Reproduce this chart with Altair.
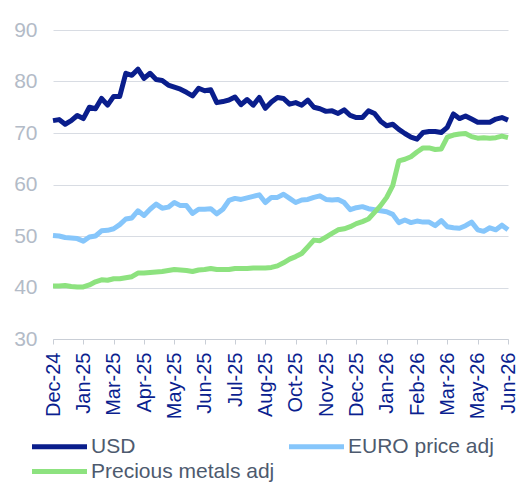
import altair as alt
import pandas as pd

tick_labels = ["Dec-24", "Jan-25", "Mar-25", "Apr-25", "May-25", "Jun-25", "Jul-25",
               "Aug-25", "Oct-25", "Nov-25", "Dec-25", "Jan-26", "Feb-26", "Mar-26",
               "May-26", "Jun-26"]

usd = [72.4, 72.6, 71.7, 72.4, 73.4, 72.8, 75.0, 74.7, 76.7, 75.4,
       77.1, 77.1, 81.6, 81.2, 82.4, 80.6, 81.6, 80.4, 80.2, 79.3,
       78.9, 78.5, 77.9, 77.2, 78.7, 78.2, 78.4, 75.9, 76.1, 76.4,
       77.0, 75.5, 76.5, 75.4, 76.9, 74.8, 76.0, 76.9, 76.7, 75.6,
       75.9, 75.4, 76.4, 75.0, 74.7, 74.2, 74.3, 73.8, 74.5, 73.4,
       73.0, 73.0, 74.3, 73.8, 72.3, 71.4, 71.7, 70.7, 69.9, 69.2,
       68.8, 70.1, 70.3, 70.3, 70.1, 71.1, 73.7, 72.8, 73.3, 72.7,
       72.1, 72.1, 72.1, 72.7, 73.0, 72.5]

euro = [50.1, 50.0, 49.7, 49.6, 49.5, 49.0, 49.8, 50.0, 51.0, 51.1,
        51.4, 52.2, 53.3, 53.5, 54.9, 54.0, 55.2, 56.2, 55.4, 55.6,
        56.5, 55.9, 55.9, 54.4, 55.2, 55.2, 55.3, 54.3, 55.2, 56.9,
        57.3, 57.1, 57.4, 57.7, 58.0, 56.5, 57.5, 57.5, 58.1, 57.3,
        56.5, 57.0, 57.1, 57.5, 57.8, 57.1, 57.0, 57.1, 56.5, 55.1,
        55.5, 55.7, 55.3, 55.1, 54.9, 54.7, 54.2, 52.6, 53.1, 52.6,
        52.9, 52.7, 52.7, 52.0, 53.0, 51.8, 51.6, 51.5, 52.0, 52.7,
        51.2, 50.9, 51.6, 51.2, 52.1, 51.2]

metals = [40.3, 40.3, 40.4, 40.2, 40.1, 40.1, 40.5, 41.1, 41.5, 41.4,
          41.7, 41.7, 41.9, 42.1, 42.8, 42.8, 42.9, 43.0, 43.1, 43.3,
          43.5, 43.4, 43.3, 43.1, 43.4, 43.5, 43.7, 43.5, 43.5, 43.5,
          43.7, 43.7, 43.7, 43.8, 43.8, 43.8, 43.9, 44.2, 44.8, 45.5,
          46.0, 46.6, 47.9, 49.2, 49.1, 49.8, 50.5, 51.2, 51.4, 51.8,
          52.4, 52.8, 53.3, 54.6, 55.9, 57.5, 59.8, 64.6, 64.9, 65.4,
          66.3, 67.1, 67.1, 66.8, 66.9, 69.2, 69.6, 69.8, 69.9, 69.3,
          69.0, 69.1, 69.0, 69.1, 69.4, 69.1]

series_names = ["USD", "EURO price adj", "Precious metals adj"]
series_colors = ["#0a1e8c", "#86c6fb", "#8de27f"]
y_ticks = [30, 40, 50, 60, 70, 80, 90]

rows = []
for k, (name, vals) in enumerate(zip(series_names, [usd, euro, metals])):
    for i, v in enumerate(vals):
        rows.append({"week": i, "value": v, "series": name, "k": k})
df = pd.DataFrame(rows)

n_last = len(usd) - 1
step = n_last // (len(tick_labels) - 1)
label_expr = "[" + ",".join("'%s'" % t for t in tick_labels) + "][round(datum.value/%d)]" % step

font = "Arial"
plot_w = 455

lines = alt.Chart(df).mark_line(strokeWidth=5, strokeJoin="round").encode(
    x=alt.X("week:Q",
            scale=alt.Scale(domain=[0, n_last], nice=False, zero=False),
            axis=alt.Axis(values=list(range(0, n_last + 1, step)), labelExpr=label_expr,
                          labelAngle=270, title=None, grid=False,
                          domainColor="#c9ced6", tickColor="#c9ced6", tickSize=5,
                          labelColor="#0b1f8f", labelFontSize=20, labelPadding=8,
                          labelFont=font)),
    y=alt.Y("value:Q",
            scale=alt.Scale(domain=[30, 90], nice=False, zero=False),
            axis=alt.Axis(values=y_ticks, title=None, ticks=False, domain=False,
                          gridColor="#d8dce3", labelColor="#b3bbc7", labelFontSize=21,
                          labelPadding=16, labelFont=font)),
    color=alt.Color("series:N",
                    scale=alt.Scale(domain=series_names, range=series_colors),
                    sort=series_names,
                    legend=alt.Legend(title=None, orient="none", legendX=-6, legendY=404,
                                      direction="horizontal", columns=2,
                                      symbolType="M-2.75,0H2.75", symbolSize=400,
                                      symbolStrokeWidth=5, labelFontSize=21,
                                      labelColor="#4d5a6e", labelFont=font, labelLimit=0,
                                      columnPadding=4, rowPadding=2, labelOffset=19)),
    order=alt.Order("k:Q"),
)

top_rule = alt.Chart(pd.DataFrame({"a": [0]})).mark_rule(color="#1c2d9c", strokeWidth=2).encode(
    x=alt.value(-45), x2=alt.value(plot_w + 4), y=alt.value(-26)
)

chart = alt.layer(top_rule, lines).properties(
    width=plot_w, height=309,
    padding={"left": 45, "top": 22, "right": 8, "bottom": 145},
    autosize="none",
).configure_view(stroke=None)

chart.save("out.html", embed_options={"renderer": "svg", "actions": False})
